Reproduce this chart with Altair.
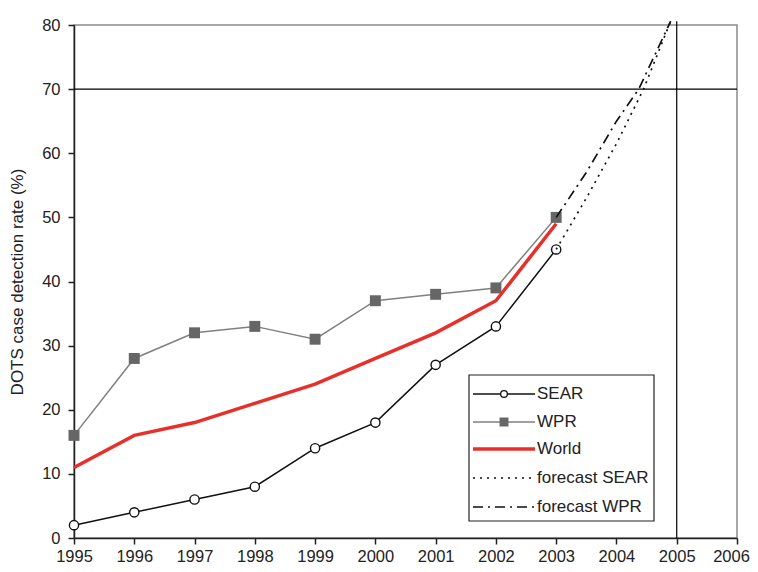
import altair as alt
import pandas as pd

years = [1995, 1996, 1997, 1998, 1999, 2000, 2001, 2002, 2003]
sear = [2, 4, 6, 8, 14, 18, 27, 33, 45]
wpr = [16, 28, 32, 33, 31, 37, 38, 39, 50]
world = [11, 16, 18, 21, 24, 28, 32, 37, 49]

fc_sear_x = [2003, 2003.5, 2004, 2004.45, 2004.9]
fc_sear_y = [45, 53, 61.5, 70, 80.6]
fc_wpr_x = [2003, 2003.5, 2004, 2004.37, 2004.9]
fc_wpr_y = [50, 57, 65, 70, 80.6]

ref_year = [2005]
ref_level = [70]

FONT = "Liberation Sans"

df = pd.DataFrame({"year": years, "SEAR": sear, "WPR": wpr, "World": world})
fs = pd.DataFrame({"year": fc_sear_x, "v": fc_sear_y, "o": range(len(fc_sear_x))})
fw = pd.DataFrame({"year": fc_wpr_x, "v": fc_wpr_y, "o": range(len(fc_wpr_x))})

xsc = alt.Scale(domain=[1995, 2006], nice=False, zero=False)
ysc = alt.Scale(domain=[0, 80], nice=False)

X = alt.X("year:Q", scale=xsc,
          axis=alt.Axis(values=list(range(1995, 2007)), format="d", title=None,
                        labelFlush=False, labelOverlap=False,
                        labelOffset={"condition": {"test": "datum.value == 2006", "value": -6},
                                     "value": 0}))
Y_axis = alt.Axis(values=list(range(0, 81, 10)), title="DOTS case detection rate (%)")

base = alt.Chart(df)

hline = alt.Chart(pd.DataFrame({"lv": ref_level})).mark_rule(color="black", strokeWidth=1.2).encode(
    y=alt.Y("lv:Q", scale=ysc))
vline = alt.Chart(pd.DataFrame({"yr": ref_year, "y0": [0], "y1": [80.6]})).mark_rule(
    color="black", strokeWidth=1.2).encode(
    x=alt.X("yr:Q", scale=xsc), y=alt.Y("y0:Q", scale=ysc), y2="y1:Q")

wpr_line = base.mark_line(color="#808080", strokeWidth=1.5).encode(
    x=X, y=alt.Y("WPR:Q", scale=ysc, axis=Y_axis))
wpr_pts = base.mark_point(shape="square", filled=True, color="#666666", size=120, opacity=1).encode(
    x="year:Q", y="WPR:Q")
world_line = base.mark_line(color="#e8302a", strokeWidth=3.5).encode(x="year:Q", y="World:Q")
sear_line = base.mark_line(color="#111111", strokeWidth=1.5).encode(x="year:Q", y="SEAR:Q")
sear_pts = base.mark_point(shape="circle", filled=False, color="#111111", fill="white",
                           fillOpacity=1, strokeWidth=1.4, size=85, opacity=1).encode(
    x="year:Q", y="SEAR:Q")

fs_line = alt.Chart(fs).mark_line(color="#111111", strokeWidth=1.7, strokeDash=[2, 5], clip=False).encode(
    x=alt.X("year:Q", scale=xsc), y=alt.Y("v:Q", scale=ysc), order="o:Q")
fw_line = alt.Chart(fw).mark_line(color="#111111", strokeWidth=1.7, strokeDash=[10, 5, 2, 5], clip=False).encode(
    x=alt.X("year:Q", scale=xsc), y=alt.Y("v:Q", scale=ysc), order="o:Q")

# Legend (manual, in pixel coordinates of the plot area)
one = pd.DataFrame({"a": [0]})
lx0, lx1, lsym, ltxt = 399, 461, 430, 463
rows = [369, 397, 424, 453, 482]
labels = ["SEAR", "WPR", "World", "forecast SEAR", "forecast WPR"]

leg = [
    alt.Chart(one).mark_rect(fill="white", stroke="#222222", strokeWidth=1.2).encode(
        x=alt.value(395), x2=alt.value(580), y=alt.value(350), y2=alt.value(496)),
    alt.Chart(one).mark_rule(color="#111111", strokeWidth=1.5).encode(
        x=alt.value(lx0), x2=alt.value(lx1), y=alt.value(rows[0])),
    alt.Chart(one).mark_point(shape="circle", color="#111111", fill="white", fillOpacity=1,
                              strokeWidth=1.3, size=45, opacity=1).encode(
        x=alt.value(lsym), y=alt.value(rows[0])),
    alt.Chart(one).mark_rule(color="#808080", strokeWidth=1.5).encode(
        x=alt.value(lx0), x2=alt.value(lx1), y=alt.value(rows[1])),
    alt.Chart(one).mark_point(shape="square", filled=True, color="#666666", size=80, opacity=1).encode(
        x=alt.value(lsym), y=alt.value(rows[1])),
    alt.Chart(one).mark_rule(color="#e8302a", strokeWidth=3.5).encode(
        x=alt.value(lx0), x2=alt.value(lx1), y=alt.value(rows[2])),
    alt.Chart(one).mark_rule(color="#111111", strokeWidth=1.6, strokeDash=[2, 5]).encode(
        x=alt.value(lx0), x2=alt.value(lx1), y=alt.value(rows[3])),
    alt.Chart(one).mark_rule(color="#111111", strokeWidth=1.6, strokeDash=[10, 5, 2, 5]).encode(
        x=alt.value(lx0), x2=alt.value(lx1), y=alt.value(rows[4])),
]
for r, lab in zip(rows, labels):
    leg.append(alt.Chart(pd.DataFrame({"t": [lab]})).mark_text(
        align="left", baseline="middle", font=FONT, fontSize=17, color="#222222").encode(
        x=alt.value(ltxt), y=alt.value(r), text="t:N"))

chart = alt.layer(
    hline, vline, wpr_line, wpr_pts, world_line, sear_line, sear_pts, fs_line, fw_line, *leg
).properties(
    width=663, height=513,
    padding={"left": 66, "top": 17, "right": 13, "bottom": 26},
    autosize=alt.AutoSizeParams(type="none"),
).configure_view(
    stroke="#8a8a8a", strokeWidth=1.5
).configure_axis(
    domainColor="#222222", domainWidth=1.5, tickColor="#222222", tickWidth=1.5,
    tickSize=6, grid=False, labelFont=FONT, labelFontSize=16.5, labelColor="#222222",
    titleFont=FONT, titleFontSize=17, titleFontWeight="normal", titleColor="#222222",
).configure_axisY(labelPadding=8, titlePadding=15).configure_axisX(labelPadding=4)

chart.save("out.html", embed_options={"renderer": "svg", "actions": False})
